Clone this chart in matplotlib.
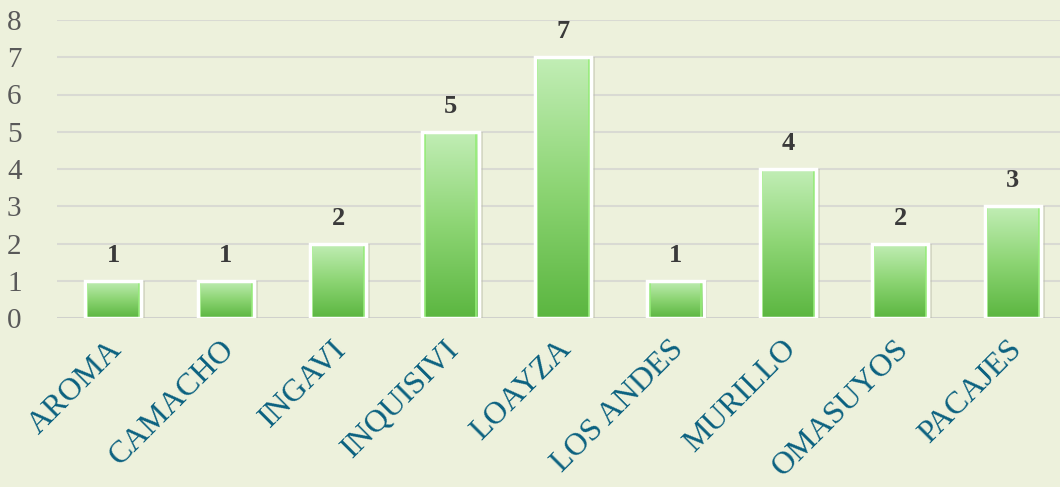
import matplotlib
matplotlib.use("Agg")
import matplotlib.pyplot as plt
from matplotlib.colors import LinearSegmentedColormap
import matplotlib.transforms as mtransforms
import numpy as np

provincias = ['AROMA', 'CAMACHO', 'INGAVI', 'INQUISIVI', 'LOAYZA',
              'LOS ANDES', 'MURILLO', 'OMASUYOS', 'PACAJES']
valores = [1, 1, 2, 5, 7, 1, 4, 2, 3]
yticks = [0, 1, 2, 3, 4, 5, 6, 7, 8]

bg = '#EDF1DC'
plt.rcParams['font.family'] = ['Liberation Serif', 'DejaVu Serif']

fig = plt.figure(figsize=(10.6, 4.87), dpi=100, facecolor=bg)
ax = fig.add_axes([57/1060, 169/487, 1012/1060, 298/487])
ax.set_facecolor(bg)

x = np.arange(len(provincias))
# soft shadow on the right side
ax.bar(x + 0.035, valores, width=0.5, color='#B8BBA8', alpha=0.45, zorder=2)
bars = ax.bar(x, valores, width=0.5, color='none', edgecolor='white',
              linewidth=2.5, zorder=4)

grad = LinearSegmentedColormap.from_list('verde', ['#5BB640', '#8DD574', '#C2EEB6'])
g = np.linspace(0, 1, 256).reshape(-1, 1)
for b in bars:
    x0, w, h = b.get_x(), b.get_width(), b.get_height()
    im = ax.imshow(g, cmap=grad, origin='lower', aspect='auto',
                   extent=(x0, x0 + w, 0, h), zorder=3)
    im.set_clip_path(b)
# inner light green rim
ax.bar(x, valores, width=0.46, color='none', edgecolor='#95EC78',
       linewidth=1.2, zorder=3.5)

for xi, v in zip(x, valores):
    ax.annotate(str(v), (xi, v), xytext=(0, 10), textcoords='offset points',
                ha='center', va='bottom', fontsize=19, fontweight='bold',
                color='#3A3A3A', zorder=5)

ax.set_xlim(-0.5, len(provincias) - 0.5)
ax.set_ylim(0, 8)
ax.set_yticks(yticks)
ax.set_yticklabels([str(t) for t in yticks], fontsize=21, color='#595959')
ax.yaxis.grid(True, color='#D9DAD3', linewidth=1.5, zorder=0)
ax.set_axisbelow(True)
for s in ax.spines.values():
    s.set_visible(False)
ax.axhline(0, color='#D0D0CC', linewidth=2, zorder=1)

ax.set_xticks(x)
ax.set_xticklabels(provincias, rotation=45, ha='right', va='top',
                   rotation_mode='anchor', fontsize=23, color='#0B6180')
ax.tick_params(axis='both', length=0)
ax.tick_params(axis='x', pad=12)
ax.tick_params(axis='y', pad=36)
for lbl in ax.get_yticklabels():
    lbl.set_horizontalalignment('left')
shift = mtransforms.ScaledTranslation(-6/100, 0, fig.dpi_scale_trans)
for lbl in ax.get_xticklabels():
    lbl.set_transform(lbl.get_transform() + shift)

fig.savefig('out.png', dpi=100, facecolor=bg)
